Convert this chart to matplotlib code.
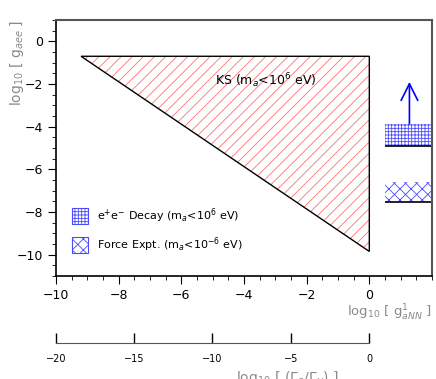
import matplotlib
matplotlib.use('agg')
import matplotlib.pyplot as plt
from matplotlib.patches import Patch

# data
ks_x = [-9.2, 0.0, 0.0]
ks_y = [-0.7, -0.7, -9.85]
ks_label = "KS (m$_{a}$<10$^{6}$ eV)"

ee_x = [0.5, 2.0]
ee_lo, ee_hi = -4.92, -3.87
force_lo, force_hi = -7.55, -6.6
arrow_x = 1.28
arrow_top = -1.9

legend_labels = ["e$^{+}$e$^{-}$ Decay (m$_{a}$<10$^{6}$ eV)",
                 "Force Expt. (m$_{a}$<10$^{-6}$ eV)"]
x_major = [-10, -8, -6, -4, -2, 0]
y_major = [0, -2, -4, -6, -8, -10]
sec_ticks = [-20, -15, -10, -5, 0]

blue = '#4a4aff'
red = '#ff7070'
grey = '#8a8a8a'

plt.rcParams['hatch.linewidth'] = 0.6
plt.rcParams['mathtext.fontset'] = 'dejavusans'

fig = plt.figure(figsize=(4.36, 3.79), dpi=100)
ax = fig.add_axes([0.1284, 0.2718, 0.8624, 0.6754])

# KS region: red hatch plus black outline
ax.fill(ks_x, ks_y, facecolor='none', edgecolor=red, hatch='///', lw=0)
ax.fill(ks_x, ks_y, facecolor='none', edgecolor='black', lw=1.0)
ax.text(-3.3, -1.82, ks_label, fontsize=9, ha='center', va='center')

# right-hand limits
ax.fill_between(ee_x, ee_lo, ee_hi, facecolor='none', edgecolor=blue, hatch='+++++', lw=0)
ax.hlines(ee_lo, ee_x[0], ee_x[1], color='black', lw=1.2)
ax.fill_between(ee_x, force_lo, force_hi, facecolor='none', edgecolor=blue, hatch='xxx', lw=0)
ax.hlines(force_lo, ee_x[0], ee_x[1], color='black', lw=1.2)
ax.annotate('', xy=(arrow_x, arrow_top), xytext=(arrow_x, ee_hi),
            arrowprops=dict(arrowstyle='->,head_length=1.2,head_width=0.6',
                            color='blue', lw=1.2, shrinkA=0, shrinkB=0))

handles = [Patch(facecolor='none', edgecolor=blue, hatch='+++++', lw=0.8),
           Patch(facecolor='none', edgecolor=blue, hatch='xxx', lw=0.8)]
ax.legend(handles, legend_labels, loc='lower left', bbox_to_anchor=(0.043, 0.086),
          frameon=False, fontsize=8, handlelength=1.44, handleheight=1.9,
          labelspacing=0.95, handletextpad=0.8, borderpad=0, borderaxespad=0)

ax.set_xlim(-10, 2)
ax.set_ylim(-11, 1)
ax.set_xticks(x_major)
ax.set_yticks(y_major)
ax.set_xticks([v / 2 for v in range(-20, 5)], minor=True)
ax.set_yticks([v / 2 for v in range(-22, 3)], minor=True)
ax.tick_params(which='major', length=6, width=0.8, labelsize=9, direction='out')
ax.tick_params(which='minor', length=3, width=0.6, direction='out')
ax.set_xticklabels(['\u221210', '\u22128', '\u22126', '\u22124', '\u22122', '0'])
ax.set_yticklabels(['0', '\u22122', '\u22124', '\u22126', '\u22128', '\u221210'])

for s in ['top', 'right']:
    ax.spines[s].set_color('#555555')
    ax.spines[s].set_linewidth(1.5)
for s in ['left', 'bottom']:
    ax.spines[s].set_linewidth(1.2)

ax.text(1.0, -0.145, "log$_{10}$ [ g$^{1}_{aNN}$ ]", transform=ax.transAxes,
        fontsize=9.5, color=grey, ha='right', va='center')
ax.text(-0.104, 1.0, "log$_{10}$ [ g$_{aee}$ ]", transform=ax.transAxes,
        rotation=90, fontsize=10, color=grey, ha='center', va='top')

# secondary scale below
ax2 = fig.add_axes([0.1284, 0.095, 0.7179, 0.001])
ax2.set_xlim(-20, 0)
ax2.set_ylim(0, 1)
ax2.set_yticks([])
for s in ['top', 'right', 'left']:
    ax2.spines[s].set_visible(False)
ax2.spines['bottom'].set_color('#555555')
ax2.set_xticks(sec_ticks)
ax2.set_xticklabels(['\u221220', '\u221215', '\u221210', '\u22125', '0'])
ax2.tick_params(axis='x', direction='in', length=7, width=1.0, labelsize=7, pad=8)
fig.text(0.66, 0.025, "log$_{10}$ [ ($\\Gamma_{a}$/$\\Gamma_{\\gamma}$) ]",
         fontsize=10, color=grey, ha='center', va='top')

plt.savefig('out.png', dpi=100)
